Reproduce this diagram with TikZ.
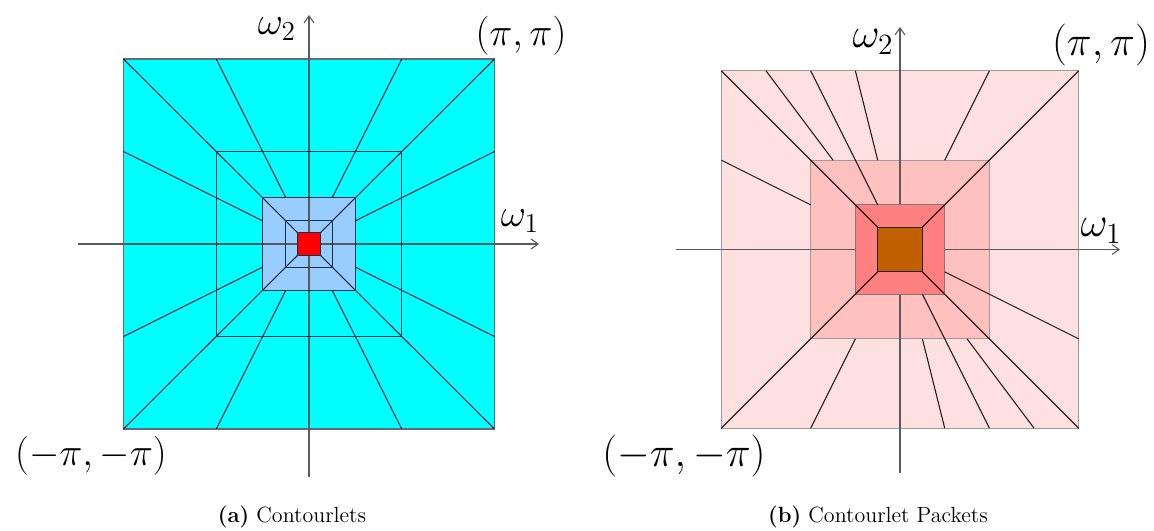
\RequirePackage{fix-cm}
\documentclass[tikz,border=0pt]{standalone}
\usetikzlibrary{arrows.meta}
\definecolor{cyanA}{RGB}{0,255,255}
\definecolor{lblue}{RGB}{153,204,255}
\definecolor{redA}{RGB}{255,0,0}
\definecolor{pinkA}{RGB}{255,224,224}
\definecolor{pinkB}{RGB}{255,192,192}
\definecolor{pinkC}{RGB}{255,128,128}
\definecolor{brownC}{RGB}{192,96,0}
\definecolor{lineA}{RGB}{25,45,70}
\definecolor{lineB}{RGB}{40,30,30}
\definecolor{axisc}{RGB}{90,90,90}
\tikzset{
  seg/.style={line width=0.55pt},
  axisline/.style={line width=0.55pt, draw=axisc, -{Straight Barb[length=3.5pt,width=5pt]}},
  lbla/.style={inner sep=0pt, font=\fontsize{19.5}{23}\selectfont},
  lblb/.style={inner sep=0pt, font=\fontsize{21}{25}\selectfont},
  captext/.style={inner sep=0pt, font=\fontsize{11}{13}\selectfont},
  panela/.style={shift={(309,244)}, xscale=185.5, yscale=-185},
  panelb/.style={shift={(900,249.5)}, xscale=178.7, yscale=-178.7},
}
\begin{document}
\begin{tikzpicture}[x=0.5pt,y=-0.5pt]
\useasboundingbox (0,0) rectangle (1154,530);
\fill[white] (0,0) rectangle (1154,530);

% ---------- panel (a) ----------
\coordinate (aL) at (78,244);
\coordinate (aR) at (539,244);
\coordinate (aB) at (309,477);
\coordinate (aT) at (309,15);
\begin{scope}[panela]
  \filldraw[fill=cyanA, draw=lineA!70, seg] (-1,-1) rectangle (1,1);
  \fill[lblue] (-.25,-.25) rectangle (.25,.25);
\end{scope}
\draw[axisline] (aL) -- (aR);
\draw[axisline] (aB) -- (aT);
\begin{scope}[panela, draw=lineA, seg]
  \draw (-.5,-.5) rectangle (.5,.5);
  \draw (-.25,-.25) rectangle (.25,.25);
  \draw (-.125,-.125) rectangle (.125,.125);
  \foreach \sx in {-1,1} \foreach \sy in {-1,1} \draw (\sx,\sy) -- (\sx/16,\sy/16);
  \foreach \a/\b in {.5/1,-.5/1,.5/-1,-.5/-1,1/.5,1/-.5,-1/.5,-1/-.5}
    \draw (\a,\b) -- (\a/4,\b/4);
  \filldraw[fill=redA] (-1/16,-1/16) rectangle (1/16,1/16);
\end{scope}

% ---------- panel (b) ----------
\coordinate (bL) at (676,249.5);
\coordinate (bR) at (1120,249.5);
\coordinate (bB) at (900,473);
\coordinate (bT) at (900,27);
\begin{scope}[panelb]
  \filldraw[fill=pinkA, draw=lineB!45, seg] (-1,-1) rectangle (1,1);
  \filldraw[fill=pinkB, draw=lineB!45, seg] (-.5,-.5) rectangle (.5,.5);
\end{scope}
\draw[axisline] (bL) -- (bR);
\draw[axisline] (bB) -- (bT);
\begin{scope}[panelb, draw=lineB, seg]
  \filldraw[fill=pinkC, draw=lineB!60] (-.25,-.25) rectangle (.25,.25);
  \foreach \sx in {-1,1} \foreach \sy in {-1,1} \draw (\sx,\sy) -- (\sx/8,\sy/8);
  \foreach \a/\b/\k in {-.75/1/2,-.5/1/4,-.25/1/2,.5/1/2,-1/.5/2,1/-.5/4,-.5/-1/2,.25/-1/2,.5/-1/4,.75/-1/2}
    \draw (\a,\b) -- (\a/\k,\b/\k);
  \filldraw[fill=brownC, draw=lineB] (-1/8,-1/8) rectangle (1/8,1/8);
\end{scope}

% ---------- labels ----------
\node[lbla] (w2a) at (277,29) {$\omega_2$};
\node[lbla] (ppa) at (521,36) {$(\pi,\pi)$};
\node[lbla] (w1a) at (520,221) {$\omega_1$};
\node[lbla] (mma) at (91,456) {$(-\pi,-\pi)$};
\node[lblb] (w2b) at (873,42) {$\omega_2$};
\node[lblb] (ppb) at (1101,45) {$(\pi,\pi)$};
\node[lblb] (w1b) at (1101,231) {$\omega_1$};
\node[lblb] (mmb) at (684,456) {$(-\pi,-\pi)$};
\node[captext] (capa) at (292,517) {\textbf{(a)} Contourlets};
\node[captext] (capb) at (878,517) {\textbf{(b)} Contourlet Packets};
\end{tikzpicture}
\end{document}
